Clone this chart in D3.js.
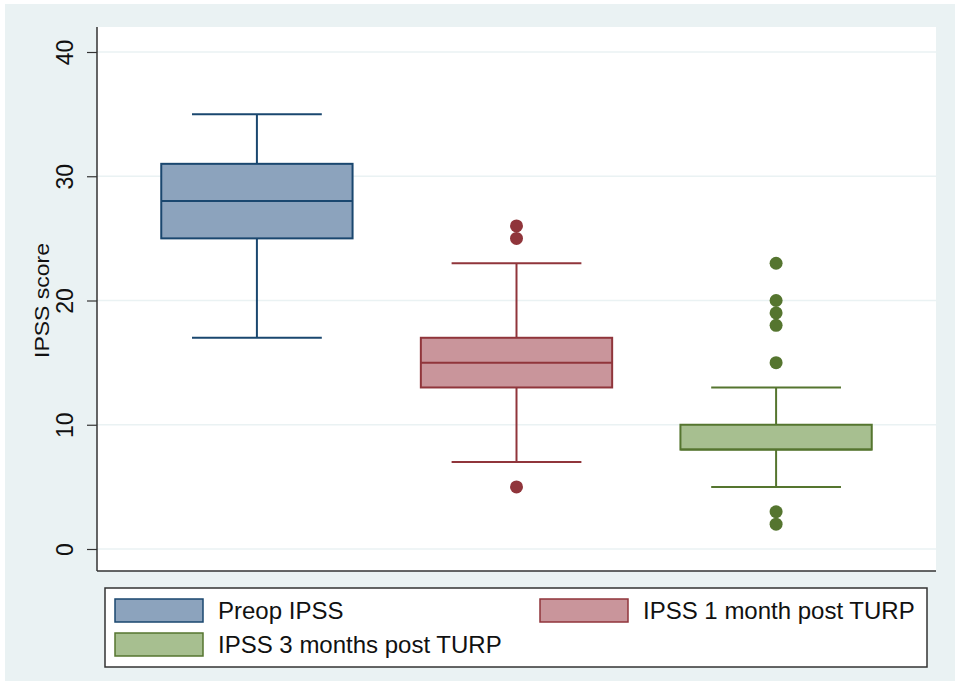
<!DOCTYPE html>
<html>
<head>
<meta charset="utf-8">
<script src="https://cdn.jsdelivr.net/npm/d3@7"></script>
<style>
  html, body { margin: 0; padding: 0; background: #fff; }
  svg { display: block; }
  text { font-family: "Liberation Sans", Arial, sans-serif; fill: #111; }
</style>
</head>
<body>
<svg id="chart"></svg>
<script>
// groups shown, in order
const groups = ['Preop IPSS', 'IPSS 1 month post TURP', 'IPSS 3 months post TURP'];
// box statistics
const lowerWhisker = [17, 7, 5];
const q1 = [25, 13, 8];
const median = [28, 15, 8];
const q3 = [31, 17, 10];
const upperWhisker = [35, 23, 13];
const outliers = [[], [26, 25, 5], [23, 20, 19, 18, 15, 3, 2]];
const yTicks = [0, 10, 20, 30, 40];

const fills = ['#8ca3bd', '#c9959b', '#a7bf90'];
const strokes = ['#1a476f', '#90353b', '#55752f'];

const width = 960, height = 685;
const plot = { left: 97, right: 936, top: 27, bottom: 571 };

const svg = d3.select('#chart')
  .attr('width', width)
  .attr('height', height);

// outer background
svg.append('rect')
  .attr('x', 5).attr('y', 4)
  .attr('width', width - 10).attr('height', height - 8)
  .attr('fill', '#eaf2f3');

// plot region
svg.append('rect')
  .attr('x', plot.left).attr('y', plot.top)
  .attr('width', plot.right - plot.left).attr('height', plot.bottom - plot.top)
  .attr('fill', '#fff');

const y = d3.scaleLinear().domain([0, 40]).range([549, 52]);
const x = d3.scalePoint().domain(groups).range([plot.left, plot.right]).padding(0.616);
const step = x.step();
const boxW = step * 0.737;
const capW = step * 0.5;

// grid lines
svg.append('g').selectAll('line')
  .data(yTicks)
  .join('line')
  .attr('x1', plot.left).attr('x2', plot.right)
  .attr('y1', (d) => y(d)).attr('y2', (d) => y(d))
  .attr('stroke', '#eaf2f3')
  .attr('stroke-width', 1.5);

// y axis
const yAxis = d3.axisLeft(y).tickValues(yTicks).tickSize(10).tickPadding(8);
const yAxisG = svg.append('g')
  .attr('transform', `translate(${plot.left},0)`)
  .call(yAxis);
yAxisG.select('.domain').remove();
yAxisG.selectAll('.tick line').attr('stroke', '#333').attr('stroke-width', 1.2);
yAxisG.selectAll('.tick text')
  .attr('font-size', 23)
  .attr('font-family', '"Liberation Sans", Arial, sans-serif')
  .attr('fill', '#111')
  .attr('text-anchor', 'middle')
  .attr('dy', 0)
  .attr('x', 0)
  .attr('transform', 'translate(-24,0) rotate(-90)');

// axis lines
svg.append('line')
  .attr('x1', plot.left).attr('x2', plot.left)
  .attr('y1', plot.top).attr('y2', plot.bottom)
  .attr('stroke', '#333').attr('stroke-width', 1.5);
svg.append('line')
  .attr('x1', plot.left).attr('x2', plot.right)
  .attr('y1', plot.bottom).attr('y2', plot.bottom)
  .attr('stroke', '#333').attr('stroke-width', 1.5);

// y axis title
svg.append('text')
  .attr('transform', `translate(49,${(y(0) + y(40)) / 2}) rotate(-90)`)
  .attr('text-anchor', 'middle')
  .attr('font-size', 21)
  .attr('textLength', 115)
  .attr('lengthAdjust', 'spacingAndGlyphs')
  .text('IPSS score');

// boxes
const boxData = groups.map((g, i) => ({
  group: g, i,
  lo: lowerWhisker[i], q1: q1[i], med: median[i], q3: q3[i], hi: upperWhisker[i],
  out: outliers[i],
}));

const boxes = svg.append('g').selectAll('g')
  .data(boxData)
  .join('g')
  .attr('transform', (d) => `translate(${x(d.group)},0)`);

// whisker stems
boxes.append('line')
  .attr('x1', 0).attr('x2', 0)
  .attr('y1', (d) => y(d.hi)).attr('y2', (d) => y(d.q3))
  .attr('stroke', (d) => strokes[d.i]).attr('stroke-width', 2);
boxes.append('line')
  .attr('x1', 0).attr('x2', 0)
  .attr('y1', (d) => y(d.q1)).attr('y2', (d) => y(d.lo))
  .attr('stroke', (d) => strokes[d.i]).attr('stroke-width', 2);

// caps
['hi', 'lo'].forEach((k) => {
  boxes.append('line')
    .attr('x1', -capW / 2).attr('x2', capW / 2)
    .attr('y1', (d) => y(d[k])).attr('y2', (d) => y(d[k]))
    .attr('stroke', (d) => strokes[d.i]).attr('stroke-width', 2);
});

// box
boxes.append('rect')
  .attr('x', -boxW / 2).attr('width', boxW)
  .attr('y', (d) => y(d.q3))
  .attr('height', (d) => y(d.q1) - y(d.q3))
  .attr('fill', (d) => fills[d.i])
  .attr('stroke', (d) => strokes[d.i]).attr('stroke-width', 2);

// median
boxes.append('line')
  .attr('x1', -boxW / 2).attr('x2', boxW / 2)
  .attr('y1', (d) => y(d.med)).attr('y2', (d) => y(d.med))
  .attr('stroke', (d) => strokes[d.i]).attr('stroke-width', 2);

// outliers
boxes.selectAll('circle')
  .data((d) => d.out.map((v) => ({ v, i: d.i })))
  .join('circle')
  .attr('cx', 0)
  .attr('cy', (d) => y(d.v))
  .attr('r', 6.5)
  .attr('fill', (d) => strokes[d.i]);

// legend
const legend = svg.append('g');
legend.append('rect')
  .attr('x', 105).attr('y', 588)
  .attr('width', 822).attr('height', 79)
  .attr('fill', '#fff')
  .attr('stroke', '#333').attr('stroke-width', 1.5);

const legendPos = [
  { x: 115, y: 599 },
  { x: 540, y: 599 },
  { x: 115, y: 633 },
];
const items = legend.selectAll('g')
  .data(groups)
  .join('g')
  .attr('transform', (d, i) => `translate(${legendPos[i].x},${legendPos[i].y})`);
items.append('rect')
  .attr('width', 88).attr('height', 23)
  .attr('fill', (d, i) => fills[i])
  .attr('stroke', (d, i) => strokes[i]).attr('stroke-width', 1.5);
items.append('text')
  .attr('x', 103).attr('y', 20)
  .attr('font-size', 24)
  .text((d) => d);
</script>
</body>
</html>
